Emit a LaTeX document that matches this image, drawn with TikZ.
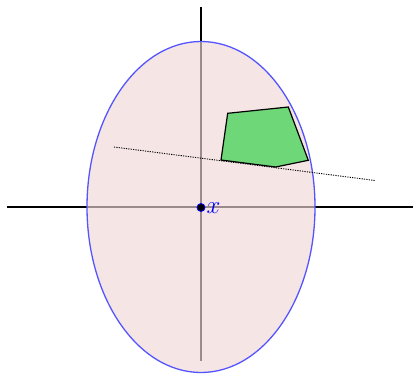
\documentclass[tikz,border=0pt]{standalone}
\usetikzlibrary{shapes.geometric}
\begin{document}
\begin{tikzpicture}[x=1pt,y=-1pt,
  axis/.style={line width=1.4pt,black},
  region/.style={draw={rgb,255:red,85;green,85;blue,255},line width=1.3pt,fill={rgb,255:red,240;green,215;blue,215},fill opacity=0.65},
  poly/.style={draw=black,line width=1.2pt,fill={rgb,255:red,110;green,215;blue,120}},
  dotline/.style={line width=0.9pt,dash pattern=on 1.2pt off 1.2pt},
  pt/.style={circle,fill=black,draw=blue,line width=0.8pt,inner sep=0pt,minimum size=8pt}
]
\useasboundingbox (0,0) rectangle (413,373);
\coordinate (hl) at (7,207);
\coordinate (hr) at (413,207);
\coordinate (vt) at (201,7);
\coordinate (vb) at (201,361);
\draw[axis] (hl) -- (hr);
\draw[axis] (vt) -- (vb);
\node[region,ellipse,minimum width=228pt,minimum height=331pt,inner sep=0pt] (E) at (201,207) {};
\draw[poly] (227.7,113.3) -- (288.3,107) -- (308.3,160.3) -- (275.7,167) -- (221,160) -- cycle;
\coordinate (d1) at (114,147);
\coordinate (d2) at (375,180.5);
\draw[dotline] (d1) -- (d2);
\node[pt] (X) at (201,207.5) {};
\node[anchor=west,inner sep=0pt,text=blue,font=\fontsize{27}{30}\selectfont] (XL) at ([xshift=1pt,yshift=-1pt]X.east) {$x$};
\end{tikzpicture}
\end{document}
